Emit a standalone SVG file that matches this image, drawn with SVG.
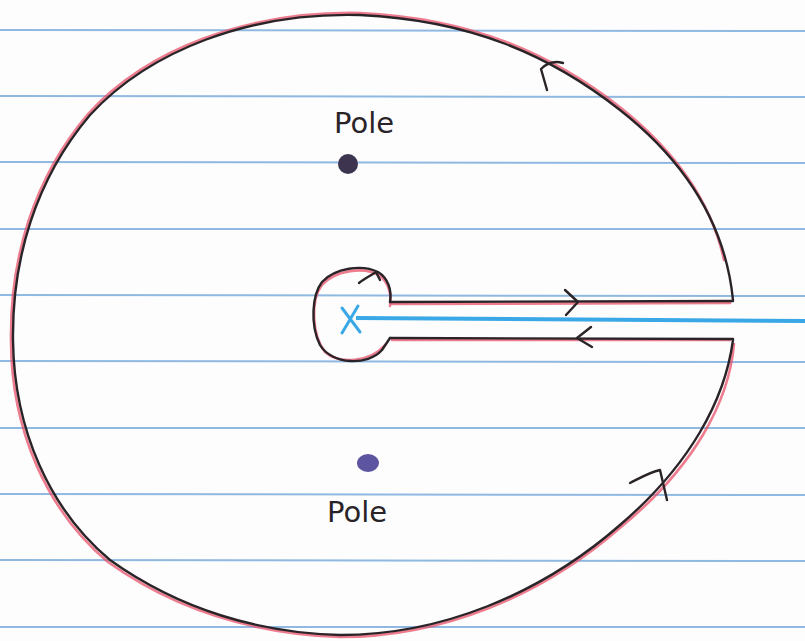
<svg xmlns="http://www.w3.org/2000/svg" width="805" height="641" viewBox="0 0 805 641">
<style>
.rule{stroke:#8fb9e0;stroke-width:2}
.ink{fill:none;stroke:#2a2428;stroke-width:2.4;stroke-linecap:round;stroke-linejoin:round}
.red{fill:none;stroke:#e8506a;stroke-width:2.6;stroke-opacity:0.75;stroke-linecap:round}
.lbl{font-family:"DejaVu Sans",sans-serif;font-size:29px;fill:#2a2428}
</style>
<rect width="805" height="641" fill="#fdfdfd"/>
<g id="paper">
<line class="rule" x1="0" y1="30" x2="805" y2="31"/>
<line class="rule" x1="0" y1="96" x2="805" y2="97"/>
<line class="rule" x1="0" y1="162" x2="805" y2="163"/>
<line class="rule" x1="0" y1="229" x2="805" y2="229"/>
<line class="rule" x1="0" y1="295" x2="805" y2="296"/>
<line class="rule" x1="0" y1="361" x2="805" y2="362"/>
<line class="rule" x1="0" y1="428" x2="805" y2="428"/>
<line class="rule" x1="0" y1="494" x2="805" y2="495"/>
<line class="rule" x1="0" y1="560" x2="805" y2="561"/>
<line class="rule" x1="0" y1="627" x2="805" y2="627"/>
</g>
<g id="branch-cut">
<line x1="356" y1="318" x2="805" y2="321" stroke="#3aa8e6" stroke-width="4"/>
<path d="M342 308 L360 332 M358 306 L342 333" fill="none" stroke="#3aa8e6" stroke-width="3" stroke-linecap="round"/>
</g>
<g id="connectors">
<path class="red" d="M734 344 C729 402 694 467 621 527 C541 597 441 637 340 637 C259 634 178 612 108 562 C48 512 11 431 11 340 C10 259 33 179 88 114 C148 48 249 11 360 13 C470 18 551 53 621 108 C680 155 712 205 724 260"/>
<path class="ink" d="M733 300 C726 230 690 165 620 110 C550 55 470 20 360 15 C250 12 150 50 90 115 C35 180 12 260 13 340 C14 430 50 510 110 560 C180 610 260 633 340 635 C440 635 540 595 620 525 C690 465 725 400 733 340"/>
<path class="red" d="M390 306 C392 294 388 282 380 276 C365 266 335 270 322 285 C310 300 312 335 325 352 C340 365 370 362 385 345"/>
<path class="ink" d="M390 302 C392 290 388 278 378 272 C362 264 335 268 322 282 C312 295 310 325 320 345 C332 365 368 366 382 350 L390 338"/>
<line class="red" x1="392" y1="304" x2="730" y2="303"/>
<line class="ink" x1="390" y1="302" x2="733" y2="301"/>
<line class="red" x1="392" y1="340" x2="730" y2="340"/>
<line class="ink" x1="390" y1="338" x2="733" y2="339"/>
<path class="ink" d="M565 290 L578 302 L566 315"/>
<path class="ink" d="M591 327 L577 338 L592 347" stroke="#3a2630"/>
<path class="ink" d="M547 90 L541 69 C548 62 556 61 563 63"/>
<path class="ink" d="M630 483 C640 478 650 472 660 470 L667 500"/>
<path class="ink" d="M359 283 C365 278 372 275 376 272 L380 280"/>
</g>
<g id="pole-top">
<circle cx="348" cy="164" r="10" fill="#3d3450"/>
<text class="lbl" x="334" y="133">Pole</text>
</g>
<g id="pole-bottom">
<ellipse cx="368" cy="463" rx="11" ry="9" fill="#5e55a0"/>
<text class="lbl" x="327" y="522">Pole</text>
</g>
</svg>
